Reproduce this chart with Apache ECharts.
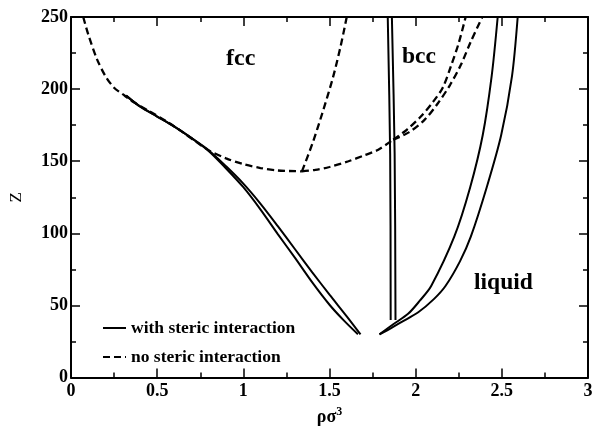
<!DOCTYPE html>
<html>
<head>
<meta charset="utf-8">
<script src="https://cdn.jsdelivr.net/npm/echarts@6/dist/echarts.min.js"></script>
<style>html,body{margin:0;padding:0;background:#fff}#c{width:597px;height:431px}</style>
</head>
<body>
<div id="c"></div>
<script>
// axis ticks: x 0..3 step 0.5; y 0..250 step 50
const xTicks = [0, 0.5, 1, 1.5, 2, 2.5, 3];
const yTicks = [0, 50, 100, 150, 200, 250];

// with steric interaction (solid)
const fccLiqA = [[0.32,195.5],[0.40,188],[0.50,181],[0.60,174],[0.70,166],[0.80,157],[0.90,145],[1.00,132],[1.10,116.5],[1.20,99.5],[1.30,83],[1.40,66],[1.50,50.5],[1.58,40],[1.665,30]];
const fccLiqB = [[0.32,195.5],[0.40,188],[0.50,181],[0.60,174],[0.70,166],[0.80,157.5],[0.90,146.5],[1.00,134.5],[1.10,120.5],[1.20,105],[1.30,89],[1.40,73],[1.50,57.5],[1.60,42.5],[1.68,30]];
const bccA = [[1.838,250],[1.852,155],[1.855,40]];
const bccB = [[1.862,250],[1.878,155],[1.883,40]];
const bccLiqA = [[1.79,30],[1.87,37],[1.956,44.2],[2.024,53.3],[2.09,63.5],[2.224,97.7],[2.316,131.8],[2.389,168],[2.441,209],[2.476,250]];
const bccLiqB = [[1.79,30],[1.86,34.5],[1.917,38.5],[2.015,45.3],[2.107,54.6],[2.173,63.5],[2.257,80.6],[2.32,97.7],[2.412,131.8],[2.496,168],[2.559,209],[2.592,250]];

// no steric interaction (dashed)
const noFccLiq = [[0.071,250],[0.10,238],[0.15,221],[0.20,209],[0.25,201],[0.30,196.5],[0.35,192],[0.45,185],[0.55,178],[0.65,170],[0.72,164],[0.80,157.5],[0.90,152],[1.00,148],[1.10,145.3],[1.20,143.6],[1.34,143]];
const noFccBcc = [[1.34,143],[1.40,162],[1.46,184],[1.52,208],[1.565,230],[1.60,250]];
const noBccBase = [[1.34,143],[1.418,144],[1.50,146],[1.61,150],[1.70,154],[1.783,158],[1.87,165]];
const noBccA = [[1.87,165],[1.95,172],[2.03,181],[2.10,191],[2.157,201],[2.205,216],[2.25,232],[2.29,250]];
const noBccB = [[1.87,165],[1.96,170],[2.05,178.5],[2.128,190],[2.2,203],[2.263,217],[2.32,233],[2.387,250]];

const SOLID = 'with steric interaction';
const DASH = 'no steric interaction';
const font = 'Liberation Serif';

function solid(d){return {name:SOLID,type:'line',data:d,symbol:'none',smooth:0.3,lineStyle:{color:'#000',width:2,type:'solid'},itemStyle:{color:'#000'},z:3};}
function dashed(d){return {name:DASH,type:'line',data:d,symbol:'none',smooth:0.3,lineStyle:{color:'#000',width:2.3,type:[7,4]},itemStyle:{color:'#000'},z:3};}

const axCommon = {
  type:'value',
  axisLine:{show:true,onZero:false,lineStyle:{color:'#000',width:2}},
  axisTick:{show:true,inside:true,length:9,lineStyle:{color:'#000',width:1.5}},
  minorTick:{show:true,splitNumber:2,length:5,lineStyle:{color:'#000',width:1.5}},
  splitLine:{show:false},
  minorSplitLine:{show:false}
};
const labelStyle = {color:'#000',fontFamily:font,fontSize:18,fontWeight:'bold'};

const chart = echarts.init(document.getElementById('c'),null,{renderer:'canvas'});
chart.setOption({
  backgroundColor:'#fff',
  animation:false,
  grid:{left:67,right:9,top:17,bottom:48},
  xAxis:[
    Object.assign({},axCommon,{position:'bottom',min:xTicks[0],max:xTicks[xTicks.length-1],interval:0.5,
      axisLabel:Object.assign({margin:5},labelStyle),
      name:'{a|ρσ}{s|3}',nameLocation:'middle',nameGap:27,
      nameTextStyle:{rich:{a:{fontFamily:font,fontSize:18,fontWeight:'bold',color:'#000'},s:{fontFamily:font,fontSize:12,fontWeight:'bold',color:'#000',verticalAlign:'bottom',padding:[0,0,11,0]}}}}),
    Object.assign({},axCommon,{position:'top',min:xTicks[0],max:xTicks[xTicks.length-1],interval:0.5,axisLabel:{show:false}})
  ],
  yAxis:[
    Object.assign({},axCommon,{position:'left',min:yTicks[0],max:yTicks[yTicks.length-1],interval:50,
      axisLabel:Object.assign({margin:3},labelStyle),
      name:'Z',nameLocation:'middle',nameGap:46,nameRotate:90,
      nameTextStyle:{fontFamily:font,fontSize:17,color:'#000'}}),
    Object.assign({},axCommon,{position:'right',min:yTicks[0],max:yTicks[yTicks.length-1],interval:50,axisLabel:{show:false}})
  ],
  legend:{
    show:true,orient:'vertical',left:97,top:314,itemWidth:23,itemHeight:14,itemGap:11,
    data:[SOLID,DASH],
    itemStyle:{opacity:0,borderWidth:0},
    textStyle:{fontFamily:font,fontSize:17.5,fontWeight:'bold',color:'#000'}
  },
  graphic:[
    {type:'text',left:226,top:47,style:{text:'fcc',fontFamily:font,fontSize:24,fontWeight:'bold',fill:'#000'}},
    {type:'text',left:402,top:45,style:{text:'bcc',fontFamily:font,fontSize:23.5,fontWeight:'bold',fill:'#000'}},
    {type:'text',left:474,top:271,style:{text:'liquid',fontFamily:font,fontSize:23.5,fontWeight:'bold',fill:'#000'}}
  ],
  series:[
    solid(fccLiqA),solid(fccLiqB),solid(bccA),solid(bccB),solid(bccLiqA),solid(bccLiqB),
    dashed(noFccLiq),dashed(noFccBcc),dashed(noBccBase),dashed(noBccA),dashed(noBccB)
  ]
});
</script>
</body>
</html>
